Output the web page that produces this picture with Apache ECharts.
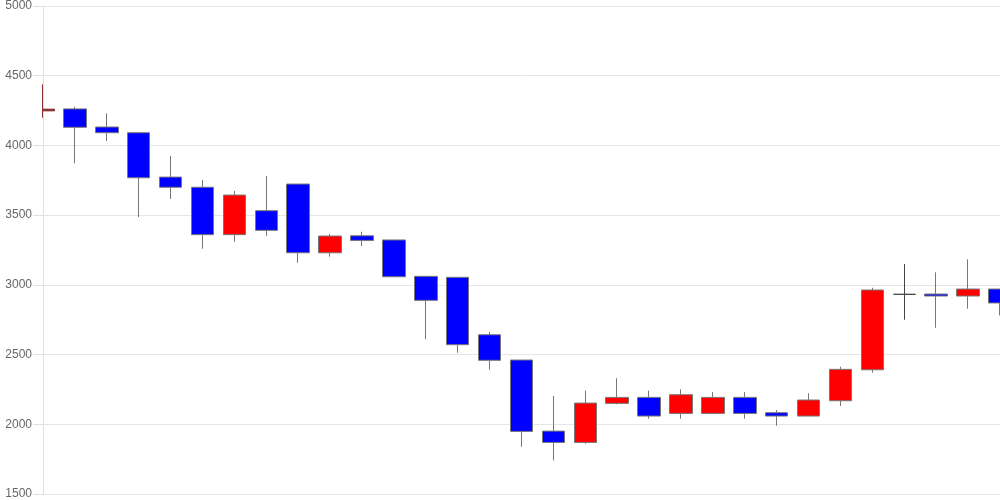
<!DOCTYPE html>
<html>
<head>
<meta charset="utf-8">
<script src="https://cdn.jsdelivr.net/npm/echarts@6/dist/echarts.min.js"></script>
<style>
html,body{margin:0;padding:0;background:#fff;}
#chart{width:1000px;height:500px;}
</style>
</head>
<body>
<div id="chart"></div>
<script>
const categories = ['1','2','3','4','5','6','7','8','9','10','11','12','13','14','15','16','17','18','19','20','21','22','23','24','25','26','27','28','29','30','31'];
const opens  = [4248,4262,4132,4091,3773,3700,3360,3532,3723,3230,3352,3322,3061,3054,2642,2461,1951,1870,2150,2193,2078,2078,2193,2083,2059,2169,2391,2932,2934,2920,2970];
const closes = [4260,4130,4091,3768,3700,3360,3644,3391,3230,3350,3319,3058,2889,2571,2459,1949,1870,2152,2193,2059,2212,2193,2078,2059,2174,2394,2963,2932,2920,2970,2870];
const lows   = [4199,3872,4032,3487,3616,3259,3309,3352,3159,3202,3278,3058,2611,2513,2391,1839,1741,1860,2143,2040,2040,2078,2040,1990,2059,2131,2370,2750,2692,2829,2781];
const highs  = [4438,4278,4230,4091,3924,3752,3673,3781,3723,3365,3381,3322,3061,3054,2662,2461,2203,2241,2330,2241,2251,2231,2231,2102,2222,2413,2979,3149,3090,3183,2970];
const yTicks = [1500,2000,2500,3000,3500,4000,4500,5000];

const data = opens.map((o,i)=>{
  const item = {value:[o, closes[i], lows[i], highs[i]]};
  if (o === closes[i]) item.itemStyle = {color:'#444', color0:'#444', borderColor:'#444', borderColor0:'#444', borderColorDoji:'#444'};
  return item;
});
data[0].itemStyle = {color:'#800000', borderColor:'#8a3030'};

const chart = echarts.init(document.getElementById('chart'));
chart.setOption({
  animation:false,
  backgroundColor:'#fff',
  grid:{left:43,right:0,top:6,bottom:6,containLabel:false},
  graphic:[{type:'rect',z:5,silent:true,shape:{x:28,y:80,width:14,height:50},style:{fill:'#fff'}}],
  xAxis:{type:'category',data:categories,boundaryGap:false,show:false},
  yAxis:{
    type:'value',min:yTicks[0],max:yTicks[yTicks.length-1],interval:500,
    axisLine:{show:true,lineStyle:{color:'#e0e0e0'}},
    axisTick:{show:true,length:10,lineStyle:{color:'#e0e0e0'}},
    axisLabel:{color:'#666',fontSize:12,fontFamily:'Liberation Sans, Arial, sans-serif',margin:11,formatter:v=>String(v)},
    splitLine:{show:true,lineStyle:{color:'#e6e6e6'}}
  },
  series:[{
    type:'candlestick',
    data:data,
    barWidth:23,
    clip:true,
    itemStyle:{color:'#ff0000',color0:'#0000ff',borderColor:'#777',borderColor0:'#777',borderWidth:1}
  }]
});
</script>
</body>
</html>
